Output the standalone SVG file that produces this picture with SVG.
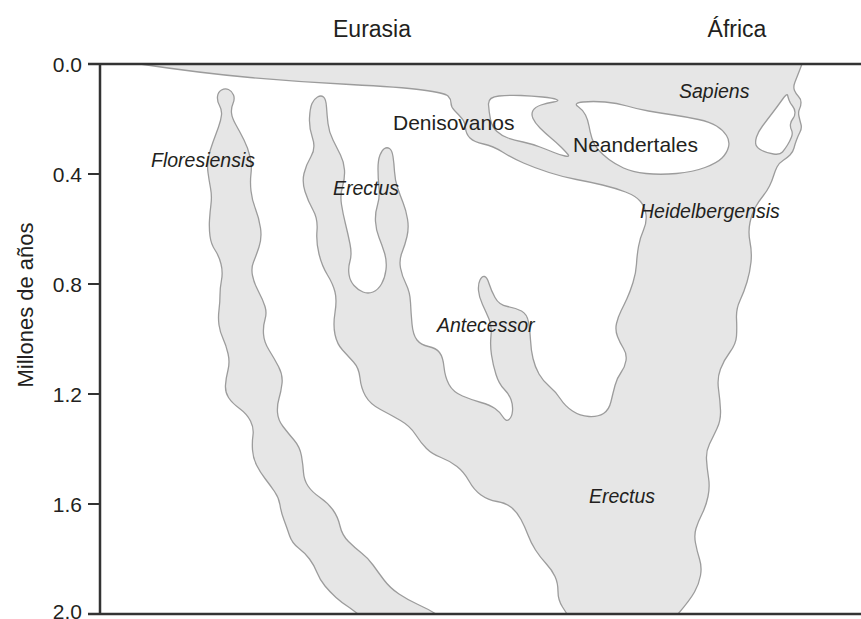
<svg xmlns="http://www.w3.org/2000/svg" width="861" height="619" viewBox="0 0 861 619">
<style>
.shape{fill:#e6e6e6;stroke:#9c9c9c;stroke-width:1.3;stroke-linejoin:round;fill-rule:evenodd}
.axis{fill:none;stroke:#333;stroke-width:2.5}
.tick{fill:none;stroke:#333;stroke-width:2}
text{font-family:"Liberation Sans",Arial,sans-serif;fill:#231f20}
.tl{font-size:21px;text-anchor:end}
.hd{font-size:23px;text-anchor:middle}
.sp{font-size:19.5px;font-style:italic}
.rg{font-size:21px}
</style>
<rect width="861" height="619" fill="#fff"/>
<g id="lineages">
<path id="floresiensis" class="shape" d="M436,614 L358,614 L350,608 Q342,603 336,597.5 Q330,592 325,586 Q320,580 317,572.5 Q314,565 309.5,559 Q305,553 298.5,548 Q292,543 289.5,535.5 Q287,528 284,520 Q281,512 280,505 Q279,498 274.5,491.5 Q270,485 265,478.5 Q260,472 256.5,465 Q253,458 252.5,450 Q252,442 253,435 Q254,428 250.5,421 Q247,414 239.5,408.5 Q232,403 228.5,397.5 Q225,392 225.5,385 Q226,378 228,370 Q230,362 228,353.5 Q226,345 223,338.5 Q220,332 219,325 Q218,318 219,310 Q220,302 220,295 Q220,288 221.5,280 Q223,272 221,264 Q219,256 215,250 Q211,244 210,236 Q209,228 209.5,220 Q210,212 211,204 Q212,196 210.5,188 Q209,180 208,172.5 Q207,165 208.5,157.5 Q210,150 213,142 Q216,134 218.5,127 Q221,120 221.5,115 Q222,110 219.5,105.5 Q217,101 217.5,96.5 Q218,92 221.5,90 Q225,88 228.5,89.5 Q232,91 233.5,95 Q235,99 233,103.5 Q231,108 231.5,113 Q232,118 236,125 Q240,132 244,140 Q248,148 250,156.5 Q252,165 251,173.5 Q250,182 251,191 Q252,200 255.5,209 Q259,218 260.5,228 Q262,238 259,247 Q256,256 253.5,262 Q251,268 252.5,275.5 Q254,283 258.5,291.5 Q263,300 265,306.5 Q267,313 265,319.5 Q263,326 263.5,334 Q264,342 269,350 Q274,358 278.5,366.5 Q283,375 282,383.5 Q281,392 279,398.5 Q277,405 277.5,412.5 Q278,420 283,426.5 Q288,433 294,440 Q300,447 301.5,456 Q303,465 303.5,472.5 Q304,480 308,486 Q312,492 320,497.5 Q328,503 333,510 Q338,517 340,526 Q342,535 348.5,541.5 Q355,548 361.5,553 Q368,558 373,565 Q378,572 384,580 Q390,588 399,594 Q408,600 418,604.5 Q428,609 436,614 Z"/>
<path id="main-lineage" class="shape" d="M140,64 L802,64 L799.5,70.5 Q797,77 795,82 Q793,87 794.5,90.5 Q796,94 798.5,96.5 Q801,99 801,102.5 Q801,106 799.5,109 Q798,112 799,116.5 Q800,121 801,124.5 Q802,128 800,132 Q798,136 796.5,140 Q795,144 794,148 Q793,152 790,155 Q787,158 783,160.5 Q779,163 777,167 Q775,171 773.5,176 Q772,181 769.5,186 Q767,191 763,196 Q759,201 755.5,207 Q752,213 750,222.5 Q748,232 750,242 Q752,252 751,262 Q750,272 747,282 Q744,292 740,300.5 Q736,309 736.5,318.5 Q737,328 736.5,336 Q736,344 730,352 Q724,360 720.5,369 Q717,378 718.5,389 Q720,400 720.5,410 Q721,420 717,428.5 Q713,437 709.5,444 Q706,451 706.5,459.5 Q707,468 708.5,477.5 Q710,487 708,496.5 Q706,506 702,514 Q698,522 696,528.5 Q694,535 695.5,543 Q697,551 699.5,559 Q702,567 700.5,575.5 Q699,584 694.5,592 Q690,600 678,614 L567,614 L562.5,607 Q558,600 558,591.5 Q558,583 555,576.5 Q552,570 546,563.5 Q540,557 535.5,550 Q531,543 528,535 Q525,527 521,519.5 Q517,512 511.5,507.5 Q506,503 497,501.5 Q488,500 481,495 Q474,490 469,481 Q464,472 457,466.5 Q450,461 441,457.5 Q432,454 426.5,448.5 Q421,443 415.5,434.5 Q410,426 400.5,420.5 Q391,415 380.5,409.5 Q370,404 365.5,396 Q361,388 360,378 Q359,368 353.5,362 Q348,356 342.5,350 Q337,344 335,334.5 Q333,325 335,312.5 Q337,300 335,292 Q333,284 327.5,275 Q322,266 319,254 Q316,242 317,230.5 Q318,219 313,210 Q308,201 305,191.5 Q302,182 304,173.5 Q306,165 311,156.5 Q316,148 312.5,138 Q309,128 309.5,118 Q310,108 312,103.5 Q314,99 317.5,97 Q321,95 323.5,97 Q326,99 326.5,107 Q327,115 328,123.5 Q329,132 333,140 Q337,148 340.5,155 Q344,162 344.5,170 Q345,178 342.5,186.5 Q340,195 341.5,204.5 Q343,214 345.5,224 Q348,234 350,244 Q352,254 350,261 Q348,268 349,274.5 Q350,281 354,285.5 Q358,290 363,292 Q368,294 373,292 Q378,290 381.5,284 Q385,278 386,269.5 Q387,261 384.5,253 Q382,245 379,237.5 Q376,230 375.5,221.5 Q375,213 377.5,205 Q380,197 379,187.5 Q378,178 378,169 Q378,160 380,155 Q382,150 384.5,148.5 Q387,147 389.5,148.5 Q392,150 393,156.5 Q394,163 394.5,171.5 Q395,180 397.5,187.5 Q400,195 403,202.5 Q406,210 407.5,219 Q409,228 407,236.5 Q405,245 402,252.5 Q399,260 400.5,268 Q402,276 406,284 Q410,292 410.5,302.5 Q411,313 412,324 Q413,335 417,340 Q421,345 428.5,346.5 Q436,348 439.5,352.5 Q443,357 444,367 Q445,377 449,384.5 Q453,392 462.5,396 Q472,400 481,402.5 Q490,405 495,408.5 Q500,412 503,417 Q506,422 509,419.5 Q512,417 512.5,411 Q513,405 511,399.5 Q509,394 504,389 Q499,384 496,374.5 Q493,365 491.5,355 Q490,345 491,335.5 Q492,326 489,319 Q486,312 482.5,304.5 Q479,297 478.5,290.5 Q478,284 480,280 Q482,276 484.5,276.5 Q487,277 489,283.5 Q491,290 495,297.5 Q499,305 507.5,306.5 Q516,308 521.5,311 Q527,314 528.5,322 Q530,330 530.5,340 Q531,350 533,358.5 Q535,367 539,374 Q543,381 549.5,386.5 Q556,392 560.5,399 Q565,406 572.5,411 Q580,416 589,416.5 Q598,417 603.5,413.5 Q609,410 611,401.5 Q613,393 615,385.5 Q617,378 621,372.5 Q625,367 626,360.5 Q627,354 623.5,348.5 Q620,343 617.5,336.5 Q615,330 616.5,323.5 Q618,317 621,311 Q624,305 627,298.5 Q630,292 633,282.5 Q636,273 636.5,264 Q637,255 638.5,246.5 Q640,238 643.5,230 Q647,222 646,214.5 Q645,207 640.5,201.5 Q636,196 625.5,192 Q615,188 602.5,185 Q590,182 576.5,179.5 Q563,177 549,172.5 Q535,168 523.5,163 Q512,158 502.5,152 Q493,146 483.5,144 Q474,142 470,138 Q466,134 465.5,128 Q465,122 461.5,118 Q458,114 454.5,110.5 Q451,107 451,103 Q451,99 448,96 Q445,93 422.5,90 Q400,87 350,84.5 Q300,82 250,77.5 Q200,73 140,64 Z
M488.5,104.5 Q488,97 499,96 Q510,95 521,95.5 Q532,96 542.5,97 Q553,98 556.5,99.5 Q560,101 553.5,102 Q547,103 541,105 Q535,107 533,110.5 Q531,114 533,118.5 Q535,123 540,128 Q545,133 551,138 Q557,143 561.5,147.5 Q566,152 568,154.5 Q570,157 565,156 Q560,155 554,152.5 Q548,150 540,147 Q532,144 523,142 Q514,140 508,138 Q502,136 497,131.5 Q492,127 490.5,119.5 Q489,112 488.5,104.5 Z
M578,106.5 Q573,103 583,102 Q593,101 605,102 Q617,103 627,106 Q637,109 648.5,111 Q660,113 673.5,115 Q687,117 698.5,119.5 Q710,122 716.5,126 Q723,130 726.5,135.5 Q730,141 728.5,147 Q727,153 722,158 Q717,163 705,167.5 Q693,172 676.5,173.5 Q660,175 646,173.5 Q632,172 623.5,168 Q615,164 609,159.5 Q603,155 598.5,150 Q594,145 592,138.5 Q590,132 589,126 Q588,120 585.5,115 Q583,110 578,106.5 Z
M787.5,95 Q787,93 782,100 Q777,107 772,113.5 Q767,120 762.5,126 Q758,132 756.5,137 Q755,142 756,145 Q757,148 762,150.5 Q767,153 773.5,154 Q780,155 782.5,152 Q785,149 787.5,145 Q790,141 791.5,137 Q793,133 791.5,130 Q790,127 790.5,124 Q791,121 793,118.5 Q795,116 795,112.5 Q795,109 792.5,106 Q790,103 789,100 Q788,97 787.5,95 Z"/>
</g>
<g id="axes">
<path class="axis" d="M88,64 H861 M100,64 V614 M88,614 H861"/>
<path class="tick" d="M88,174 H100 M88,284 H100 M88,394 H100 M88,504 H100"/>
<text class="tl" x="82" y="71.5">0.0</text>
<text class="tl" x="82" y="181.5">0.4</text>
<text class="tl" x="82" y="291.5">0.8</text>
<text class="tl" x="82" y="401.5">1.2</text>
<text class="tl" x="82" y="511.5">1.6</text>
<text class="tl" x="82" y="619">2.0</text>
<text font-size="22" text-anchor="middle" transform="translate(33,305) rotate(-90)">Millones de años</text>
</g>
<g id="labels">
<text class="hd" x="372" y="37">Eurasia</text>
<text class="hd" x="737" y="37">África</text>
<text class="sp" x="151" y="167" font-size="19">Floresiensis</text>
<text class="sp" x="333" y="195">Erectus</text>
<text class="rg" x="393" y="130">Denisovanos</text>
<text class="rg" x="573" y="152">Neandertales</text>
<text class="sp" x="679" y="98">Sapiens</text>
<text class="sp" x="640" y="218">Heidelbergensis</text>
<text class="sp" x="437" y="332">Antecessor</text>
<text class="sp" x="589" y="503">Erectus</text>
</g>
</svg>
